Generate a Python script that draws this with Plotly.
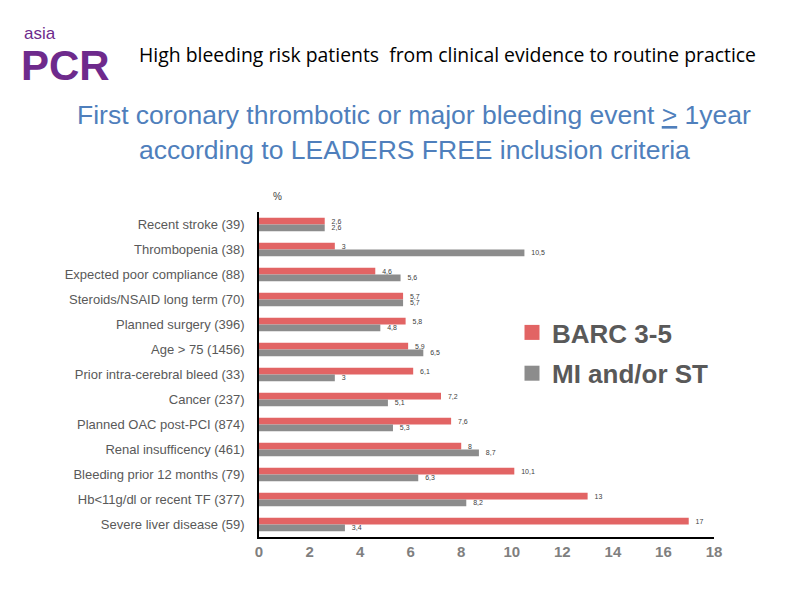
import plotly.graph_objects as go

categories = [
    "Recent stroke (39)",
    "Thrombopenia (38)",
    "Expected poor compliance (88)",
    "Steroids/NSAID long term (70)",
    "Planned surgery (396)",
    "Age > 75 (1456)",
    "Prior intra-cerebral bleed (33)",
    "Cancer (237)",
    "Planned OAC post-PCI (874)",
    "Renal insufficency (461)",
    "Bleeding prior 12 months (79)",
    "Hb<11g/dl or recent TF (377)",
    "Severe liver disease (59)",
]
barc = [2.6, 3, 4.6, 5.7, 5.8, 5.9, 6.1, 7.2, 7.6, 8, 10.1, 13, 17]
mi_st = [2.6, 10.5, 5.6, 5.7, 4.8, 6.5, 3, 5.1, 5.3, 8.7, 6.3, 8.2, 3.4]
x_ticks = [0, 2, 4, 6, 8, 10, 12, 14, 16, 18]

RED = "#E26464"
GREY = "#8C8C8C"
LABEL = "#595959"

# plot area in figure pixels (page is offset by the 8px body margin)
PL, PR, PT, PB = 251, 706, 204, 529


def fmt(v):
    return f"{v:g}".replace(".", ",")


fig = go.Figure()
for name, vals, col in [("BARC 3-5", barc, RED), ("MI and/or ST", mi_st, GREY)]:
    fig.add_trace(go.Bar(
        y=categories, x=vals, orientation="h", name=name, showlegend=False,
        marker=dict(color=col, line=dict(width=0)),
        text=["  " + fmt(v) for v in vals], textposition="outside",
        textfont=dict(size=7, color="#404040", family="Liberation Sans"),
        constraintext="none", cliponaxis=False,
    ))
for name, col, grp in [("BARC 3-5", RED, "a"), ("MI and/or ST", GREY, "b")]:
    fig.add_trace(go.Scatter(
        x=[None], y=[None], mode="markers", name=f"<b>{name}</b>",
        legendgroup=grp, showlegend=True,
        marker=dict(symbol="square", size=15, color=col),
    ))

fig.update_layout(
    width=800, height=600,
    paper_bgcolor="white", plot_bgcolor="white",
    margin=dict(l=PL, r=800 - PR, t=PT, b=600 - PB, autoexpand=False),
    barmode="group", bargap=0.46, bargroupgap=0,
    font=dict(family="Liberation Sans, Arial", color=LABEL),
    xaxis=dict(
        range=[0, 18], tickvals=x_ticks, ticktext=[f"<b>{t}</b>" for t in x_ticks],
        showgrid=False, zeroline=False,
        showline=True, linecolor="black", linewidth=1.5, ticks="",
        tickfont=dict(size=15, color="#7F7F7F", family="Liberation Sans"),
    ),
    yaxis=dict(
        categoryorder="array", categoryarray=categories, autorange="reversed",
        showgrid=False, zeroline=False, showline=True, linecolor="black",
        linewidth=1.5, ticks="", tickfont=dict(size=13, color=LABEL),
        ticklabelstandoff=10,
    ),
    legend=dict(
        x=(504 - PL) / (PR - PL), y=(PB - 301) / (PB - PT), xanchor="left", yanchor="top",
        font=dict(size=26, color=LABEL, family="Liberation Sans"),
        bgcolor="rgba(0,0,0,0)", tracegroupgap=4, traceorder="grouped",
    ),
    showlegend=True,
)

annotations = [
    dict(text="asia", x=22, y=33, xanchor="left", yanchor="middle",
         font=dict(size=17, color="#6E2A8C", family="Liberation Sans")),
    dict(text="<b>PCR</b>", x=19, y=66, xanchor="left", yanchor="middle",
         font=dict(size=42, color="#6E2A8C", family="Liberation Sans")),
    dict(text="High bleeding risk patients  from clinical evidence to routine practice",
         x=137, y=55, xanchor="left", yanchor="middle",
         font=dict(size=19.4, color="black", family="Open Sans")),
    dict(text="First coronary thrombotic or major bleeding event <u>></u> 1year",
         x=414, y=115, xanchor="center", yanchor="middle",
         font=dict(size=26.5, color="#4F7FBC", family="Liberation Sans")),
    dict(text="according to LEADERS FREE inclusion criteria",
         x=414, y=150, xanchor="center", yanchor="middle",
         font=dict(size=26.5, color="#4F7FBC", family="Liberation Sans")),
    dict(text="%", x=277, y=197, xanchor="center", yanchor="middle",
         font=dict(size=10, color="#404040", family="Liberation Sans")),
]
for a in annotations:
    a.update(xref="paper", yref="paper", showarrow=False)
    a["x"] = (a["x"] - 8 - PL) / (PR - PL)
    a["y"] = (PB - (a["y"] - 8)) / (PB - PT)
fig.update_layout(annotations=annotations)

fig.write_html("out.html")
